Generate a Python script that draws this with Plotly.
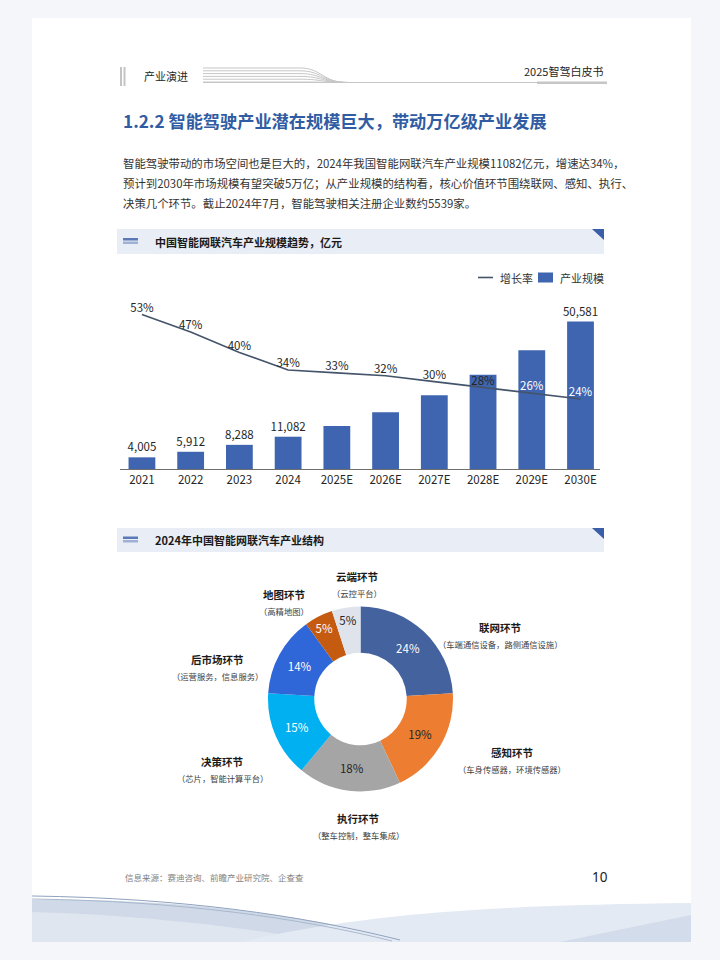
import plotly.graph_objects as go

# ---------------- data ----------------
years = ["2021", "2022", "2023", "2024", "2025E", "2026E", "2027E", "2028E", "2029E", "2030E"]
scale_values = [4005, 5912, 8288, 11082, 14740, 19460, 25290, 32370, 40790, 50581]
scale_label_shown = [True, True, True, True, False, False, False, False, False, True]
growth_rates = [0.53, 0.47, 0.40, 0.34, 0.33, 0.32, 0.30, 0.28, 0.26, 0.24]

segments = ["联网环节", "感知环节", "执行环节", "决策环节", "后市场环节", "地图环节", "云端环节"]
segment_shares = [24, 19, 18, 15, 14, 5, 5]
segment_notes = ["（车端通信设备，路侧通信设施）", "（车身传感器，环境传感器）", "（整车控制，整车集成）",
                 "（芯片，智能计算平台）", "（运营服务，信息服务）", "（高精地图）", "（云控平台）"]

W, H = 720, 960
FONT = "Noto Sans CJK SC"
BAR_COLOR = "#3f65b0"
LINE_COLOR = "#44546a"
TITLE_BLUE = "#2f5ca3"


def X(px):
    return px / W


def Y(py):
    return 1 - py / H


fig = go.Figure()

# ---------------- bar + line chart ----------------
bar_text = [f"{v:,}" if s else "" for v, s in zip(scale_values, scale_label_shown)]
fig.add_trace(go.Bar(
    x=years, y=scale_values, name="产业规模",
    marker=dict(color=BAR_COLOR, line=dict(width=0)),
    width=0.55,
    text=bar_text, textposition="outside", cliponaxis=False,
    textfont=dict(size=11.5, color="#262626", family=FONT),
    constraintext="none",
    xaxis="x", yaxis="y", showlegend=False,
))
growth_text_colors = ["#262626"] * 8 + ["#ffffff", "#ffffff"]
fig.add_trace(go.Scatter(
    x=years, y=growth_rates, name="增长率",
    mode="lines+text",
    line=dict(color=LINE_COLOR, width=1.6),
    text=[f"{round(g*100)}%" for g in growth_rates],
    textposition="top center",
    textfont=dict(size=11.5, color=growth_text_colors, family=FONT),
    cliponaxis=False,
    xaxis="x", yaxis="y2", showlegend=False,
))

# ---------------- donut ----------------
pie_colors = ["#44629e", "#ed7d31", "#a5a5a5", "#00b0f0", "#2f66d8", "#c55a11", "#dfe3ec"]
pie_text_colors = ["#ffffff", "#262626", "#262626", "#ffffff", "#ffffff", "#ffffff", "#262626"]
cx, cy, r = 360.5, 699, 92.5
fig.add_trace(go.Pie(
    labels=segments, values=segment_shares,
    hole=0.5, sort=False, direction="clockwise", rotation=0,
    marker=dict(colors=pie_colors, line=dict(width=0)),
    texttemplate="%{value}%", textposition="inside",
    insidetextorientation="horizontal",
    textfont=dict(size=11.5, color=pie_text_colors, family=FONT),
    domain=dict(x=[X(cx - r), X(cx + r)], y=[Y(cy + r), Y(cy - r)]),
    showlegend=False, hoverinfo="label+percent",
))

shapes = []
annotations = []


def text(px, py, s, size=11, color="#262626", bold=False, anchor="left", family=FONT):
    if bold:
        s = f"<b>{s}</b>"
    annotations.append(dict(
        x=X(px), y=Y(py), xref="paper", yref="paper", text=s, showarrow=False,
        xanchor=anchor, yanchor="middle", font=dict(size=size, color=color, family=family),
    ))


def rect(x0, y0, x1, y1, color, layer="below"):
    shapes.append(dict(type="rect", xref="paper", yref="paper",
                       x0=X(x0), x1=X(x1), y0=Y(y1), y1=Y(y0),
                       fillcolor=color, line=dict(width=0), layer=layer))


def path(points_cmd, fill=None, stroke=None, width=1, layer="below"):
    parts = []
    for cmd, pts in points_cmd:
        coords = " ".join(f"{X(a):.5f},{Y(b):.5f}" for a, b in pts)
        parts.append(f"{cmd} {coords}".strip())
    d = " ".join(parts)
    shp = dict(type="path", xref="paper", yref="paper", path=d, layer=layer,
               line=dict(width=width if stroke else 0, color=stroke or "rgba(0,0,0,0)"))
    if fill:
        shp["fillcolor"] = fill
    shapes.append(shp)


# page card
rect(32, 18, 691, 942, "#ffffff")

# bottom decorative waves
path([("M", [(32, 900)]), ("C", [(180, 898), (300, 915), (420, 942)]), ("L", [(32, 942)]), ("Z", [])],
     fill="#cfd9e7")
path([("M", [(32, 912)]), ("C", [(150, 915), (260, 930), (330, 942)]), ("L", [(32, 942)]), ("Z", [])],
     fill="#dfe6f0")
path([("M", [(240, 942)]), ("C", [(380, 910), (520, 905), (691, 903)]), ("L", [(691, 942)]), ("Z", [])],
     fill="#e4eaf3")
path([("M", [(560, 942)]), ("L", [(691, 915)]), ("L", [(691, 942)]), ("Z", [])], fill="#d3dcea")
path([("M", [(32, 896)]), ("C", [(180, 898), (300, 915), (400, 940)])], stroke="#8fa2bf", width=1)
path([("M", [(32, 899)]), ("C", [(180, 901), (300, 918), (392, 941)])], stroke="#a9b8cf", width=1)

# top header
rect(120, 67, 122, 86, "#c4c4c4")
rect(123.5, 67, 125.5, 86, "#c4c4c4")
text(142, 76, "产业演进", size=11, color="#262626")
for i in range(6):
    y0 = 68 + i * 2.8
    path([("M", [(203, y0)]), ("L", [(300, y0)]),
          ("C", [(322, y0), (322, 82.5), (348, 82.5)])], stroke="#c6c6c6", width=1)
path([("M", [(203, 82.5)]), ("L", [(607, 82.5)])], stroke="#c6c6c6", width=1)
rect(537, 81.5, 607, 84, "#c6c6c6")
text(605, 71, "2025智驾白皮书", size=11, color="#262626", anchor="right")

# title
text(121, 120, "1.2.2 智能驾驶产业潜在规模巨大，带动万亿级产业发展", size=17.2, color=TITLE_BLUE, bold=True)

# paragraph
para = [
    "智能驾驶带动的市场空间也是巨大的，2024年我国智能网联汽车产业规模11082亿元，增速达34%，",
    "预计到2030年市场规模有望突破5万亿；从产业规模的结构看，核心价值环节围绕联网、感知、执行、",
    "决策几个环节。截止2024年7月，智能驾驶相关注册企业数约5539家。",
]
for line, py in zip(para, [162.5, 183.3, 203.5]):
    text(121, py, line, size=11.4, color="#333333")


# section headers
def section(y0, y1, title):
    rect(117, y0, 604, y1, "#e9edf5")
    path([("M", [(592, y0)]), ("L", [(604, y0)]), ("L", [(604, y0 + 11)]), ("Z", [])], fill="#3a5ea8")
    ym = (y0 + y1) / 2
    rect(123, ym - 3.5, 138, ym - 1, "#5b78b8")
    rect(123, ym, 138, ym + 2.5, "#9fb1d6")
    text(152.5, ym, title, size=11, color="#1a1a1a", bold=True)


section(229, 254, "中国智能网联汽车产业规模趋势，亿元")
section(528, 552, "2024年中国智能网联汽车产业结构")

# legend (manual)
path([("M", [(478, 277.5)]), ("L", [(493, 277.5)])], stroke=LINE_COLOR, width=1.6)
text(498, 277.5, "增长率", size=11, color="#333333")
rect(538, 272.5, 553, 282.5, BAR_COLOR)
text(558, 277.5, "产业规模", size=11, color="#333333")

# donut labels
label_pos = [(500, 627), (512, 752), (358, 818), (222, 761), (218, 659), (284, 594), (357, 576)]
for name, note, (lx, ly) in zip(segments, segment_notes, label_pos):
    text(lx, ly, name, size=10.5, color="#1a1a1a", bold=True, anchor="center")
    text(lx, ly + 17, note, size=8.3, color="#404040", anchor="center")

# footer
text(123, 876.5, "信息来源：赛迪咨询、前瞻产业研究院、企查查", size=8.5, color="#7f7f7f")
text(610, 876.5, "10", size=13.5, color="#1a1a1a", anchor="right", family="Noto Sans")

fig.update_layout(
    width=W, height=H,
    margin=dict(l=0, r=0, t=0, b=0),
    paper_bgcolor="#f4f6fa",
    plot_bgcolor="rgba(0,0,0,0)",
    font=dict(family=FONT),
    shapes=shapes,
    annotations=annotations,
    bargap=0.45,
    uniformtext=dict(minsize=11, mode="show"),
    xaxis=dict(domain=[X(120), X(600)], range=[-0.45, 9.4], type="category",
               showline=True, linecolor="#6f6f6f", linewidth=1, ticks="",
               showgrid=False, zeroline=False,
               tickfont=dict(size=11.5, color="#262626", family=FONT),
               fixedrange=True),
    yaxis=dict(domain=[Y(469), Y(300)], range=[0, 58000], visible=False,
               showgrid=False, zeroline=False, fixedrange=True),
    yaxis2=dict(domain=[Y(469), Y(300)], range=[0, 0.58], overlaying="y", visible=False,
                showgrid=False, zeroline=False, fixedrange=True),
)

fig.write_html(
    "out.html",
    config={"displayModeBar": False},
    post_script="document.body.style.margin='0';document.body.style.overflow='hidden';",
)
